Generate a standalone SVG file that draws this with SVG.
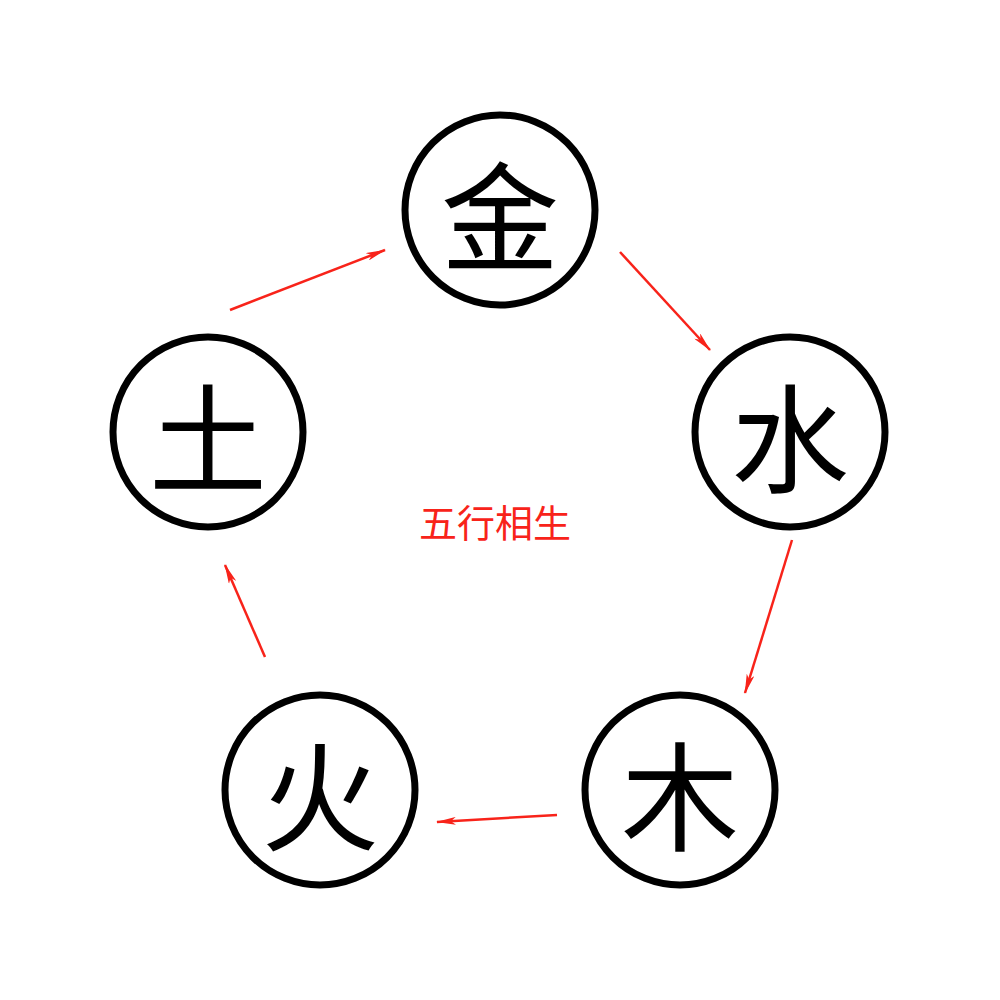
<svg xmlns="http://www.w3.org/2000/svg" width="1000" height="1000" viewBox="0 0 1000 1000">
<style>
.n circle{fill:#fff;stroke:#000;stroke-width:7}
.n text{font-family:"Noto Sans CJK SC","Noto Sans CJK JP",serif;font-size:118px;text-anchor:middle;dominant-baseline:central;fill:#000}
.c line{stroke:#f8231a;stroke-width:2.5;marker-end:url(#ah)}
.t{font-family:"Noto Sans CJK SC",sans-serif;font-size:38px;fill:#f8231a;text-anchor:middle}
</style>
<defs><marker id="ah" viewBox="0 0 20 8" refX="19" refY="4" markerWidth="8" markerHeight="3.2" orient="auto" markerUnits="strokeWidth"><path d="M0,0L20,4L0,8L5,4Z" fill="#f8231a"/></marker></defs>
<rect width="1000" height="1000" fill="#fff"/>
<g id="jin" class="n"><circle cx="500" cy="210" r="95"/><text x="500" y="210">金</text></g>
<g id="shui" class="n"><circle cx="790" cy="432" r="95"/><text x="790" y="432">水</text></g>
<g id="mu" class="n"><circle cx="680" cy="790" r="95"/><text x="680" y="790">木</text></g>
<g id="huo" class="n"><circle cx="320" cy="790" r="95"/><text x="320" y="790">火</text></g>
<g id="tu" class="n"><circle cx="208" cy="432" r="95"/><text x="208" y="432">土</text></g>
<g id="connectors" class="c">
<line x1="620" y1="252" x2="710" y2="350"/>
<line x1="792" y1="540" x2="745" y2="693"/>
<line x1="557" y1="815" x2="437" y2="822"/>
<line x1="265" y1="657" x2="225" y2="565"/>
<line x1="230" y1="310" x2="385" y2="250"/>
</g>
<text class="t" x="495" y="537">五行相生</text>
</svg>
